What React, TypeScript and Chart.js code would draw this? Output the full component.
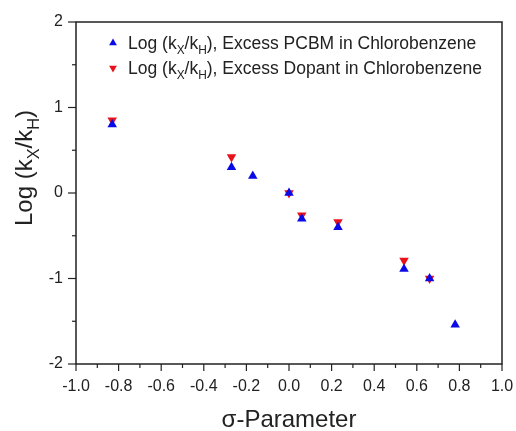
import React, { useEffect, useRef } from "react";
import { Chart, registerables } from "chart.js";

Chart.register(...registerables);

// Data
const pcbmSigma = [-0.83, -0.27, -0.17, 0.0, 0.06, 0.23, 0.54, 0.66, 0.78];
const pcbmLogK = [0.8, 0.3, 0.2, 0.0, -0.3, -0.4, -0.89, -1.0, -1.54];
const dopantSigma = [-0.83, -0.27, 0.0, 0.06, 0.23, 0.54, 0.66];
const dopantLogK = [0.85, 0.42, 0.0, -0.26, -0.34, -0.79, -1.0];

const xRange = [-1.0, 1.0];
const yRange = [-2, 2];
const xMajorStep = 0.2;
const xMinorStep = 0.1;
const yMajorStep = 1;
const yMinorStep = 0.5;

const seriesNames = [
  [{ t: "Log (k" }, { t: "X", sub: true }, { t: "/k" }, { t: "H", sub: true }, { t: "), Excess PCBM in Chlorobenzene" }],
  [{ t: "Log (k" }, { t: "X", sub: true }, { t: "/k" }, { t: "H", sub: true }, { t: "), Excess Dopant in Chlorobenzene" }],
];
const yTitle = [{ t: "Log (k" }, { t: "X", sub: true }, { t: "/k" }, { t: "H", sub: true }, { t: ")" }];
const xTitle = "σ-Parameter";

const BLUE = "#0a0ae6";
const RED = "#e8121c";
const INK = "#222222";
const FONT = "'Liberation Sans', Arial, Helvetica, sans-serif";

type Part = { t: string; sub?: boolean };

function measureParts(ctx: CanvasRenderingContext2D, parts: Part[], size: number) {
  let w = 0;
  for (const p of parts) {
    ctx.font = `${p.sub ? size * 0.68 : size}px ${FONT}`;
    w += ctx.measureText(p.t).width;
  }
  return w;
}

function drawParts(ctx: CanvasRenderingContext2D, parts: Part[], x: number, y: number, size: number) {
  let cx = x;
  ctx.textBaseline = "alphabetic";
  ctx.textAlign = "left";
  for (const p of parts) {
    const s = p.sub ? size * 0.68 : size;
    ctx.font = `${s}px ${FONT}`;
    ctx.fillText(p.t, cx, p.sub ? y + size * 0.28 : y);
    cx += ctx.measureText(p.t).width;
  }
}

function tri(ctx: CanvasRenderingContext2D, x: number, y: number, r: number, down: boolean, color: string) {
  const d = down ? -1 : 1;
  ctx.beginPath();
  ctx.moveTo(x, y - d * r);
  ctx.lineTo(x + r * 0.866, y + d * r * 0.5);
  ctx.lineTo(x - r * 0.866, y + d * r * 0.5);
  ctx.closePath();
  ctx.fillStyle = color;
  ctx.fill();
}

const framePlugin = {
  id: "frame",
  afterDraw(chart: any) {
    const ctx: CanvasRenderingContext2D = chart.ctx;
    const { left, right, top, bottom } = chart.chartArea;
    const xs = chart.scales.x;
    const ys = chart.scales.y;
    ctx.save();
    ctx.strokeStyle = INK;
    ctx.lineWidth = 1.5;
    ctx.strokeRect(left, top, right - left, bottom - top);

    // x ticks
    ctx.lineWidth = 1.2;
    const nx = Math.round((xRange[1] - xRange[0]) / xMinorStep);
    for (let i = 0; i <= nx; i++) {
      const v = xRange[0] + i * xMinorStep;
      const px = xs.getPixelForValue(v);
      const major = i % Math.round(xMajorStep / xMinorStep) === 0;
      ctx.beginPath();
      ctx.moveTo(px, bottom);
      ctx.lineTo(px, bottom + (major ? 7 : 4));
      ctx.stroke();
    }
    // y ticks
    const ny = Math.round((yRange[1] - yRange[0]) / yMinorStep);
    for (let i = 0; i <= ny; i++) {
      const v = yRange[0] + i * yMinorStep;
      const py = ys.getPixelForValue(v);
      const major = i % Math.round(yMajorStep / yMinorStep) === 0;
      ctx.beginPath();
      ctx.moveTo(left, py);
      ctx.lineTo(left - (major ? 8 : 4), py);
      ctx.stroke();
    }

    // axis titles
    ctx.fillStyle = INK;
    ctx.font = `24px ${FONT}`;
    ctx.textAlign = "center";
    ctx.textBaseline = "alphabetic";
    ctx.fillText(xTitle, (left + right) / 2, 427);

    const tsize = 24;
    const tw = measureParts(ctx, yTitle, tsize);
    ctx.save();
    ctx.translate(32, 168);
    ctx.rotate(-Math.PI / 2);
    drawParts(ctx, yTitle, -tw / 2, 0, tsize);
    ctx.restore();

    // legend
    const lsize = 17.5;
    const rows = [43, 68];
    const colors = [BLUE, RED];
    rows.forEach((ry, i) => {
      tri(ctx, 113, ry, 4.5, i === 1, colors[i]);
      ctx.fillStyle = INK;
      drawParts(ctx, seriesNames[i] as Part[], 128, ry + 6, lsize);
    });
    ctx.restore();
  },
};

export default function App() {
  const ref = useRef<HTMLCanvasElement | null>(null);
  useEffect(() => {
    if (!ref.current) return;
    const chart = new Chart(ref.current, {
      type: "scatter",
      data: {
        datasets: [
          {
            label: "Excess PCBM in Chlorobenzene",
            data: pcbmSigma.map((x, i) => ({ x, y: pcbmLogK[i] })),
            pointStyle: "triangle",
            pointRadius: 5.5,
            pointBackgroundColor: BLUE,
            pointBorderColor: BLUE,
            pointBorderWidth: 0,
          },
          {
            label: "Excess Dopant in Chlorobenzene",
            data: dopantSigma.map((x, i) => ({ x, y: dopantLogK[i] })),
            pointStyle: "triangle",
            pointRotation: 180,
            pointRadius: 5.5,
            pointBackgroundColor: RED,
            pointBorderColor: RED,
            pointBorderWidth: 0,
          },
        ],
      },
      options: {
        animation: false,
        responsive: false,
        maintainAspectRatio: false,
        layout: { padding: { top: 22, right: 14, left: 0, bottom: 0 } },
        plugins: { legend: { display: false }, tooltip: { enabled: false } },
        scales: {
          x: {
            type: "linear",
            min: xRange[0],
            max: xRange[1],
            grid: { display: false, drawTicks: false },
            border: { display: false },
            afterFit: (s: any) => {
              s.height = 67;
              s.paddingRight = 0;
              s.paddingLeft = 0;
            },
            ticks: {
              stepSize: xMajorStep,
              padding: 13,
              color: INK,
              font: { family: FONT, size: 16 },
              maxRotation: 0,
              autoSkip: false,
              callback: (v: any) => (Math.abs(v) < 1e-9 ? "0.0" : Number(v).toFixed(1)),
            },
          },
          y: {
            type: "linear",
            min: yRange[0],
            max: yRange[1],
            grid: { display: false, drawTicks: false },
            border: { display: false },
            afterFit: (s: any) => {
              s.width = 76;
              s.paddingTop = 0;
              s.paddingBottom = 0;
            },
            ticks: {
              stepSize: yMajorStep,
              padding: 13,
              color: INK,
              font: { family: FONT, size: 16 },
              callback: (v: any) => String(Math.round(Number(v))),
            },
          },
        },
      },
      plugins: [framePlugin],
    });
    return () => chart.destroy();
  }, []);
  return (
    <div style={{ position: "absolute", left: 0, top: 0, width: 516, height: 431, background: "#fff" }}>
      <canvas ref={ref} width={516} height={431} />
    </div>
  );
}
